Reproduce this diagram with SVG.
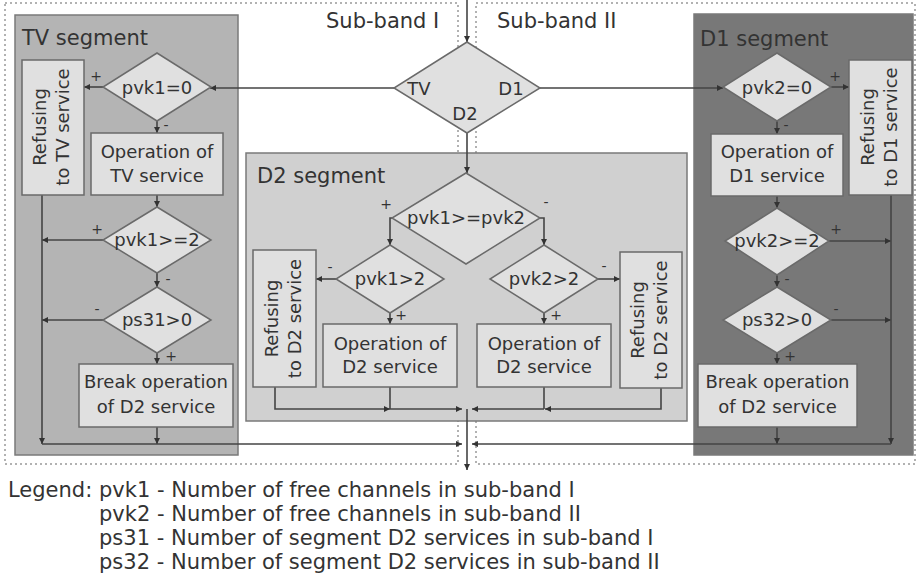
<svg xmlns="http://www.w3.org/2000/svg" width="918" height="585" viewBox="0 0 918 585">
  <style>
    text { font-family: "DejaVu Sans", "Liberation Sans", sans-serif; fill: #333; }
    .title { font-size: 21px; }
    .lbl { font-size: 18px; text-anchor: middle; }
    .sign { font-size: 14px; text-anchor: middle; }
    .legend { font-size: 21px; }
    .frame { fill: none; stroke: #999; stroke-width: 1.5; stroke-dasharray: 2 3; }
    .seg { stroke: #7a7a7a; stroke-width: 1.5; }
    .node { fill: #e0e0e0; stroke: #6a6a6a; stroke-width: 1.5; }
    .conn { fill: none; stroke: #444; stroke-width: 1.6; marker-end: url(#arrow); }
    .line { fill: none; stroke: #444; stroke-width: 1.6; }
  </style>
  <defs>
    <marker id="arrow" markerUnits="userSpaceOnUse" markerWidth="7" markerHeight="7" refX="6" refY="3" orient="auto">
      <path d="M0,0 L6,3 L0,6 z" fill="#333"/>
    </marker>
  </defs>

  <rect width="918" height="585" fill="#fff"/>

  <!-- sub-band frames -->
  <g id="subband-frames">
    <rect class="frame" x="5" y="3" width="453" height="461"/>
    <rect class="frame" x="476" y="3" width="439" height="461"/>
    <text class="title" x="326" y="28">Sub-band I</text>
    <text class="title" x="497" y="28">Sub-band II</text>
  </g>

  <!-- segments -->
  <g id="tv-segment">
    <rect class="seg" x="15" y="15" width="223" height="440" fill="#b4b4b4"/>
    <text class="title" x="22" y="45">TV segment</text>
  </g>
  <g id="d1-segment">
    <rect class="seg" x="694" y="14" width="219" height="441" fill="#787878"/>
    <text class="title" x="700" y="46">D1 segment</text>
  </g>
  <g id="d2-segment">
    <rect class="seg" x="246" y="153" width="441" height="268" fill="#d0d0d0"/>
    <text class="title" x="257" y="183">D2 segment</text>
  </g>

  <!-- connectors -->
  <g id="connectors">
    <path class="conn" d="M467,0 V42"/>
    <path class="conn" d="M395,88 H210"/>
    <path class="conn" d="M540,88 H723"/>
    <path class="conn" d="M467,133 V173"/>

    <!-- TV segment -->
    <path class="conn" d="M103,87 H84"/>
    <path class="conn" d="M157,120 V133"/>
    <path class="conn" d="M157,195 V207"/>
    <path class="conn" d="M103,240 H42"/>
    <path class="conn" d="M157,273 V287"/>
    <path class="conn" d="M103,320 H42"/>
    <path class="conn" d="M157,353 V364"/>
    <path class="conn" d="M42,195 V444"/>
    <path class="conn" d="M157,427 V444"/>
    <path class="conn" d="M42,444 H462"/>

    <!-- D1 segment -->
    <path class="conn" d="M830,87 H849"/>
    <path class="conn" d="M777,121 V134"/>
    <path class="conn" d="M777,196 V208"/>
    <path class="conn" d="M828,241 H891"/>
    <path class="conn" d="M777,275 V287"/>
    <path class="conn" d="M830,320 H891"/>
    <path class="conn" d="M777,353 V364"/>
    <path class="conn" d="M891,195 V444"/>
    <path class="conn" d="M777,427 V444"/>
    <path class="conn" d="M891,444 H472"/>

    <!-- D2 segment -->
    <path class="conn" d="M392,218 H390 V245"/>
    <path class="conn" d="M540,218 H544 V245"/>
    <path class="conn" d="M337,279 H316"/>
    <path class="conn" d="M390,313 V324"/>
    <path class="conn" d="M598,279 H620"/>
    <path class="conn" d="M544,313 V324"/>
    <path class="conn" d="M275,387 V409 H390"/>
    <path class="line" d="M390,387 V409"/>
    <path class="conn" d="M390,409 H462"/>
    <path class="conn" d="M661,388 V409 H545"/>
    <path class="line" d="M544,387 V409"/>
    <path class="conn" d="M544,409 H472"/>

    <!-- common exit -->
    <path class="conn" d="M467,409 V470"/>

    <!-- branch signs -->
    <text class="sign" x="96" y="81">+</text>
    <text class="sign" x="166" y="130">-</text>
    <text class="sign" x="97" y="234">+</text>
    <text class="sign" x="168" y="284">-</text>
    <text class="sign" x="97" y="314">-</text>
    <text class="sign" x="171" y="361">+</text>

    <text class="sign" x="835" y="81">+</text>
    <text class="sign" x="786" y="130">-</text>
    <text class="sign" x="836" y="234">+</text>
    <text class="sign" x="787" y="284">-</text>
    <text class="sign" x="836" y="314">-</text>
    <text class="sign" x="790" y="361">+</text>

    <text class="sign" x="386" y="209">+</text>
    <text class="sign" x="546" y="207">-</text>
    <text class="sign" x="330" y="272">-</text>
    <text class="sign" x="401" y="320">+</text>
    <text class="sign" x="604" y="271">-</text>
    <text class="sign" x="556" y="320">+</text>
  </g>

  <!-- dispatcher -->
  <g id="dispatch">
    <polygon class="node" points="467,42 540,88 467,133 394,88"/>
    <text class="lbl" x="419" y="95">TV</text>
    <text class="lbl" x="511" y="95">D1</text>
    <text class="lbl" x="465" y="120">D2</text>
  </g>

  <!-- TV segment nodes -->
  <g id="tv-pvk1-zero">
    <polygon class="node" points="157,53 211,87 157,121 103,87"/>
    <text class="lbl" x="157" y="94">pvk1=0</text>
  </g>
  <g id="tv-refuse">
    <rect class="node" x="22" y="60" width="62" height="135"/>
    <g transform="translate(53,127) rotate(-90)">
      <text class="lbl" x="0" y="-7">Refusing</text>
      <text class="lbl" x="0" y="16">to TV service</text>
    </g>
  </g>
  <g id="tv-operation">
    <rect class="node" x="91" y="133" width="132" height="62"/>
    <text class="lbl" x="157" y="158">Operation of</text>
    <text class="lbl" x="157" y="182">TV service</text>
  </g>
  <g id="tv-pvk1-ge2">
    <polygon class="node" points="157,207 211,240 157,273 103,240"/>
    <text class="lbl" x="157" y="246">pvk1&gt;=2</text>
  </g>
  <g id="tv-ps31">
    <polygon class="node" points="157,287 211,320 157,353 103,320"/>
    <text class="lbl" x="157" y="326">ps31&gt;0</text>
  </g>
  <g id="tv-break">
    <rect class="node" x="79" y="364" width="154" height="63"/>
    <text class="lbl" x="156" y="388">Break operation</text>
    <text class="lbl" x="156" y="413">of D2 service</text>
  </g>

  <!-- D1 segment nodes -->
  <g id="d1-pvk2-zero">
    <polygon class="node" points="777,53 831,87 777,121 723,87"/>
    <text class="lbl" x="777" y="94">pvk2=0</text>
  </g>
  <g id="d1-refuse">
    <rect class="node" x="849" y="60" width="63" height="135"/>
    <g transform="translate(880.5,127) rotate(-90)">
      <text class="lbl" x="0" y="-7">Refusing</text>
      <text class="lbl" x="0" y="16">to D1 service</text>
    </g>
  </g>
  <g id="d1-operation">
    <rect class="node" x="711" y="134" width="132" height="62"/>
    <text class="lbl" x="777" y="158">Operation of</text>
    <text class="lbl" x="777" y="182">D1 service</text>
  </g>
  <g id="d1-pvk2-ge2">
    <polygon class="node" points="777,208 829,241 777,275 725,241"/>
    <text class="lbl" x="777" y="247">pvk2&gt;=2</text>
  </g>
  <g id="d1-ps32">
    <polygon class="node" points="777,287 831,320 777,353 723,320"/>
    <text class="lbl" x="777" y="326">ps32&gt;0</text>
  </g>
  <g id="d1-break">
    <rect class="node" x="698" y="364" width="159" height="63"/>
    <text class="lbl" x="777.5" y="388">Break operation</text>
    <text class="lbl" x="777.5" y="413">of D2 service</text>
  </g>

  <!-- D2 segment nodes -->
  <g id="d2-compare">
    <polygon class="node" points="466,173 540,218 466,264 392,218"/>
    <text class="lbl" x="466" y="224">pvk1&gt;=pvk2</text>
  </g>
  <g id="d2-pvk1-gt2">
    <polygon class="node" points="390,245 444,279 390,313 336,279"/>
    <text class="lbl" x="390" y="285">pvk1&gt;2</text>
  </g>
  <g id="d2-pvk2-gt2">
    <polygon class="node" points="544,245 598,279 544,313 490,279"/>
    <text class="lbl" x="544" y="285">pvk2&gt;2</text>
  </g>
  <g id="d2-refuse-left">
    <rect class="node" x="253" y="250" width="63" height="137"/>
    <g transform="translate(284.5,318.5) rotate(-90)">
      <text class="lbl" x="0" y="-7">Refusing</text>
      <text class="lbl" x="0" y="16">to D2 service</text>
    </g>
  </g>
  <g id="d2-operation-left">
    <rect class="node" x="323" y="324" width="134" height="63"/>
    <text class="lbl" x="390" y="350">Operation of</text>
    <text class="lbl" x="390" y="373">D2 service</text>
  </g>
  <g id="d2-operation-right">
    <rect class="node" x="477" y="324" width="134" height="63"/>
    <text class="lbl" x="544" y="350">Operation of</text>
    <text class="lbl" x="544" y="373">D2 service</text>
  </g>
  <g id="d2-refuse-right">
    <rect class="node" x="620" y="252" width="62" height="136"/>
    <g transform="translate(651,320) rotate(-90)">
      <text class="lbl" x="0" y="-7">Refusing</text>
      <text class="lbl" x="0" y="16">to D2 service</text>
    </g>
  </g>

  <!-- legend -->
  <g id="legend">
    <text class="legend" x="8" y="497">Legend:</text>
    <text class="legend" x="99" y="497">pvk1 - Number of free channels in sub-band I</text>
    <text class="legend" x="99" y="521">pvk2 - Number of free channels in sub-band II</text>
    <text class="legend" x="99" y="545">ps31 - Number of segment D2 services in sub-band I</text>
    <text class="legend" x="99" y="569">ps32 - Number of segment D2 services in sub-band II</text>
  </g>
</svg>
